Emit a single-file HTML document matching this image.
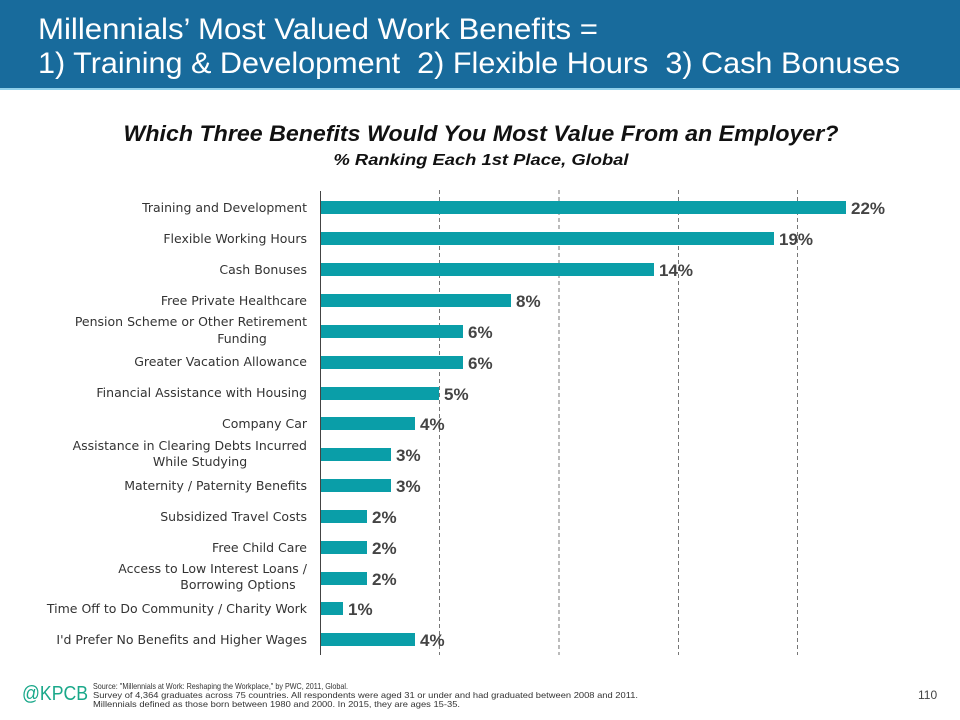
<!DOCTYPE html>
<html><head><meta charset="utf-8"><style>
html,body{margin:0;padding:0;background:#fff;}
body{width:960px;height:720px;overflow:hidden;position:relative;font-family:"Liberation Sans",Arial,sans-serif;}
</style></head><body>
<svg width="960" height="720" xmlns="http://www.w3.org/2000/svg" style="position:absolute;left:0;top:0">
<rect x="0" y="0" width="960" height="88" fill="#186b9c"/>
<rect x="0" y="88" width="960" height="2" fill="#8fd0ea"/>
<g font-family="Liberation Sans, Arial, sans-serif" font-size="29.5" fill="#ffffff">
<text x="38" y="39" textLength="560" lengthAdjust="spacingAndGlyphs">Millennials’ Most Valued Work Benefits =</text>
<text x="38" y="73" textLength="862" lengthAdjust="spacingAndGlyphs">1) Training &amp; Development&#160;&#160;2) Flexible Hours&#160;&#160;3) Cash Bonuses</text>
</g>
<g font-family="Liberation Sans, Arial, sans-serif" font-style="italic" font-weight="bold" fill="#111" text-anchor="middle">
<text x="481" y="141" font-size="22" textLength="715" lengthAdjust="spacingAndGlyphs">Which Three Benefits Would You Most Value From an Employer?</text>
<text x="481" y="165" font-size="15.5" textLength="295" lengthAdjust="spacingAndGlyphs">% Ranking Each 1st Place, Global</text>
</g>
<g stroke="#777" stroke-width="1" stroke-dasharray="4,3">
<line x1="439.5" y1="190" x2="439.5" y2="655"/>
<line x1="559" y1="190" x2="559" y2="655"/>
<line x1="678.5" y1="190" x2="678.5" y2="655"/>
<line x1="797.5" y1="190" x2="797.5" y2="655"/>
</g>
<g stroke="#444" stroke-width="1">
<line x1="320.5" y1="191" x2="320.5" y2="655"/>
</g>
<g fill="#0a9ea8">
<rect x="321" y="201" width="525" height="13"/>
<rect x="321" y="232" width="453" height="13"/>
<rect x="321" y="263" width="333" height="13"/>
<rect x="321" y="294" width="190" height="13"/>
<rect x="321" y="325" width="142" height="13"/>
<rect x="321" y="356" width="142" height="13"/>
<rect x="321" y="387" width="118" height="13"/>
<rect x="321" y="417" width="94" height="13"/>
<rect x="321" y="448" width="70" height="13"/>
<rect x="321" y="479" width="70" height="13"/>
<rect x="321" y="510" width="46" height="13"/>
<rect x="321" y="541" width="46" height="13"/>
<rect x="321" y="572" width="46" height="13"/>
<rect x="321" y="602" width="22" height="13"/>
<rect x="321" y="633" width="94" height="13"/>
</g>
<g font-family="Liberation Sans, Arial, sans-serif" font-weight="bold" font-size="17" fill="#444">
<text x="851" y="214">22%</text>
<text x="779" y="245">19%</text>
<text x="659" y="276">14%</text>
<text x="516" y="307">8%</text>
<text x="468" y="338">6%</text>
<text x="468" y="369">6%</text>
<text x="444" y="400">5%</text>
<text x="420" y="430">4%</text>
<text x="396" y="461">3%</text>
<text x="396" y="492">3%</text>
<text x="372" y="523">2%</text>
<text x="372" y="554">2%</text>
<text x="372" y="585">2%</text>
<text x="348" y="615">1%</text>
<text x="420" y="646">4%</text>
</g>
<g font-family="DejaVu Sans, Liberation Sans, sans-serif" font-size="12.5" fill="#333" text-anchor="end">
<text x="307" y="212">Training and Development</text>
<text x="307" y="243">Flexible Working Hours</text>
<text x="307" y="274">Cash Bonuses</text>
<text x="307" y="305">Free Private Healthcare</text>
<text x="307" y="326">Pension Scheme or Other Retirement</text>
<text x="242" y="343" text-anchor="middle">Funding</text>
<text x="307" y="366">Greater Vacation Allowance</text>
<text x="307" y="397">Financial Assistance with Housing</text>
<text x="307" y="428">Company Car</text>
<text x="307" y="450">Assistance in Clearing Debts Incurred</text>
<text x="200" y="466" text-anchor="middle">While Studying</text>
<text x="307" y="490">Maternity / Paternity Benefits</text>
<text x="307" y="521">Subsidized Travel Costs</text>
<text x="307" y="552">Free Child Care</text>
<text x="307" y="573">Access to Low Interest Loans /</text>
<text x="238" y="589" text-anchor="middle">Borrowing Options</text>
<text x="307" y="613">Time Off to Do Community / Charity Work</text>
<text x="307" y="644">I'd Prefer No Benefits and Higher Wages</text>
</g>
<g font-family="Liberation Sans, Arial, sans-serif" fill="#1aa88a">
<text x="22" y="700" font-size="20" textLength="66" lengthAdjust="spacingAndGlyphs">@KPCB</text>
</g>
<g font-family="Liberation Sans, Arial, sans-serif" font-size="8.5" fill="#333">
<text x="93" y="689" textLength="255" lengthAdjust="spacingAndGlyphs">Source: "Millennials at Work: Reshaping the Workplace," by PWC, 2011, Global.</text>
<text x="93" y="698" textLength="545" lengthAdjust="spacingAndGlyphs">Survey of 4,364 graduates across 75 countries. All respondents were aged 31 or under and had graduated between 2008 and 2011.</text>
<text x="93" y="707" textLength="367" lengthAdjust="spacingAndGlyphs">Millennials defined as those born between 1980 and 2000. In 2015, they are ages 15-35.</text>
</g>
<text x="918" y="699" font-family="Liberation Sans, Arial, sans-serif" font-size="12" fill="#444">110</text>
</svg>
</body></html>
